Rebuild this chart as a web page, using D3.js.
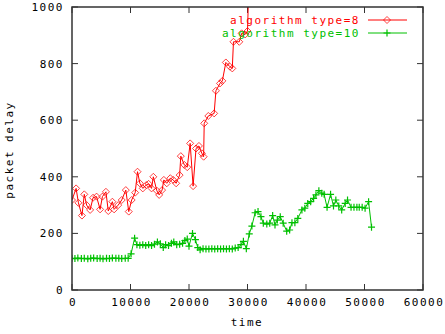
<!DOCTYPE html>
<html lang="en">
<head>
<meta charset="UTF-8">
<title>packet delay</title>
<script src="https://cdn.jsdelivr.net/npm/d3@7"></script>
<style>
  body { margin: 0; background: #fff; }
  text { font-family: "DejaVu Sans Mono", monospace; font-size: 11px; letter-spacing: 1.5px; }
</style>
</head>
<body>
<svg width="445" height="334"></svg>
<script>
// algorithm type=8
var redTime  = [0,700,1100,1700,2100,2500,3100,3600,4200,4800,5200,5800,6200,6900,7200,7900,8500,9200,9700,10200,10800,11200,11600,12100,12700,13100,13600,13900,14500,14900,15400,15700,16200,16800,17300,17800,18400,18600,19200,19700,20200,20700,21200,21700,22200,22500,22600,23300,24300,24600,25300,25700,26300,27000,27400,27600,28600,29000,29600,30000,30400];
var redDelay = [318,359,308,263,338,300,283,326,330,285,330,347,279,312,285,300,318,353,277,318,344,418,377,359,371,375,359,400,351,336,353,389,377,395,389,377,406,473,442,434,518,367,500,509,483,471,589,615,624,704,730,739,804,789,783,877,877,907,903,915,1200];
// algorithm type=10
var greenTime  = [0,500,1000,1600,2100,2700,3200,3700,4300,4800,5300,5900,6400,6900,7500,8000,8500,9100,9600,10100,10700,11100,11600,12100,12600,13100,13600,14100,14600,15100,15600,16000,16500,17000,17400,17900,18400,18900,19300,19700,20000,20600,21100,21500,21900,22400,22900,23400,23900,24400,24900,25400,25900,26400,26900,27400,27900,28400,28900,29300,29800,30300,30750,31300,31800,32300,32700,33300,33800,34300,34700,35100,35600,36100,36700,37200,37600,38100,38600,39300,39800,40300,40800,41300,41700,42200,42700,43100,43600,44200,44700,45100,45600,46100,46700,47100,47700,48200,48700,49100,49600,50100,50700,51200];
var greenDelay = [112,111,113,111,112,110,112,113,111,112,110,112,111,113,112,112,111,112,112,128,183,160,158,160,157,160,157,162,170,163,150,160,157,165,170,160,162,165,175,180,155,200,178,150,142,146,145,145,146,145,146,145,146,145,146,145,148,150,160,172,146,198,226,273,277,259,236,233,236,263,230,247,259,236,208,212,238,238,253,283,289,306,312,324,336,351,342,338,292,338,297,318,297,283,306,318,292,292,292,292,292,289,312,222];

var xTicks = [0,10000,20000,30000,40000,50000,60000];
var yTicks = [0,200,400,600,800,1000];
var seriesNames = ["algorithm type=8", "algorithm type=10"];
var colors = ["#ff0000", "#00c000"];

var svg = d3.select("svg");
var pLeft = 72, pRight = 423, pTop = 7, pBottom = 290;

var x = d3.scaleLinear().domain([0, 60000]).range([pLeft, pRight]);
var y = d3.scaleLinear().domain([0, 1000]).range([pBottom, pTop]);

// ticks on all four sides, pointing inward
var tk = 6;
var g = svg.append("g").attr("stroke", "#333").attr("stroke-width", 1);
xTicks.forEach(function(t){
    g.append("line").attr("x1", x(t)).attr("x2", x(t)).attr("y1", pBottom).attr("y2", pBottom - tk);
    g.append("line").attr("x1", x(t)).attr("x2", x(t)).attr("y1", pTop).attr("y2", pTop + tk);
});
yTicks.forEach(function(v){
    g.append("line").attr("x1", pLeft).attr("x2", pLeft + tk).attr("y1", y(v)).attr("y2", y(v));
    g.append("line").attr("x1", pRight).attr("x2", pRight - tk).attr("y1", y(v)).attr("y2", y(v));
});

svg.selectAll(".xl").data(xTicks).enter().append("text")
    .attr("x", function(d){ return x(d) + 1; })
    .attr("y", 306)
    .attr("text-anchor", "middle")
    .attr("fill", "#000")
    .text(function(d){ return d; });

svg.selectAll(".yl").data(yTicks).enter().append("text")
    .attr("x", 64)
    .attr("y", function(d){ return y(d) + 4; })
    .attr("text-anchor", "end")
    .attr("fill", "#000")
    .text(function(d){ return d; });

svg.append("text").attr("x", 247).attr("y", 326).attr("text-anchor", "middle").text("time");
svg.append("text")
    .attr("transform", "translate(13,150) rotate(-90)")
    .attr("text-anchor", "middle")
    .text("packet delay");

// clip to plot box
svg.append("clipPath").attr("id", "clip")
    .append("rect").attr("x", pLeft).attr("y", pTop).attr("width", pRight - pLeft).attr("height", pBottom - pTop);

var plot = svg.append("g").attr("clip-path", "url(#clip)");
var line = d3.line().x(function(d){ return x(d[0]); }).y(function(d){ return y(d[1]); });

var redData = d3.zip(redTime, redDelay);
var greenData = d3.zip(greenTime, greenDelay);

function diamond(sel, col) {
    sel.attr("d", "M0,-3.5L3.5,0L0,3.5L-3.5,0Z").attr("fill", "none").attr("stroke", col).attr("stroke-width", 1).attr("opacity", 0.75);
}
function plus(sel, col) {
    sel.attr("d", "M-3.5,0H3.5M0,-3.5V3.5").attr("fill", "none").attr("stroke", col).attr("stroke-width", 1.2);
}

plot.append("path").datum(redData).attr("d", line).attr("fill", "none").attr("stroke", colors[0]).attr("stroke-width", 1);
plot.selectAll(".rp").data(redData).enter().append("path")
    .attr("transform", function(d){ return "translate(" + x(d[0]) + "," + y(d[1]) + ")"; })
    .call(diamond, colors[0]);

plot.append("path").datum(greenData).attr("d", line).attr("fill", "none").attr("stroke", colors[1]).attr("stroke-width", 1);
plot.selectAll(".gp").data(greenData).enter().append("path")
    .attr("transform", function(d){ return "translate(" + x(d[0]) + "," + y(d[1]) + ")"; })
    .call(plus, colors[1]);

// legend
seriesNames.forEach(function(name, i){
    var ly = 20 + i * 13;
    svg.append("text").attr("x", 360).attr("y", ly + 4).attr("text-anchor", "end")
        .attr("fill", colors[i]).text(name);
    svg.append("line").attr("x1", 368).attr("x2", 407).attr("y1", ly).attr("y2", ly)
        .attr("stroke", colors[i]).attr("stroke-width", 1);
    var m = svg.append("path").attr("transform", "translate(387," + ly + ")");
    if (i === 0) m.call(diamond, colors[i]); else m.call(plus, colors[i]);
});

// border
svg.append("rect").attr("x", pLeft).attr("y", pTop).attr("width", pRight - pLeft).attr("height", pBottom - pTop)
    .attr("fill", "none").attr("stroke", "#333").attr("stroke-width", 1.5);
</script>
</body>
</html>
